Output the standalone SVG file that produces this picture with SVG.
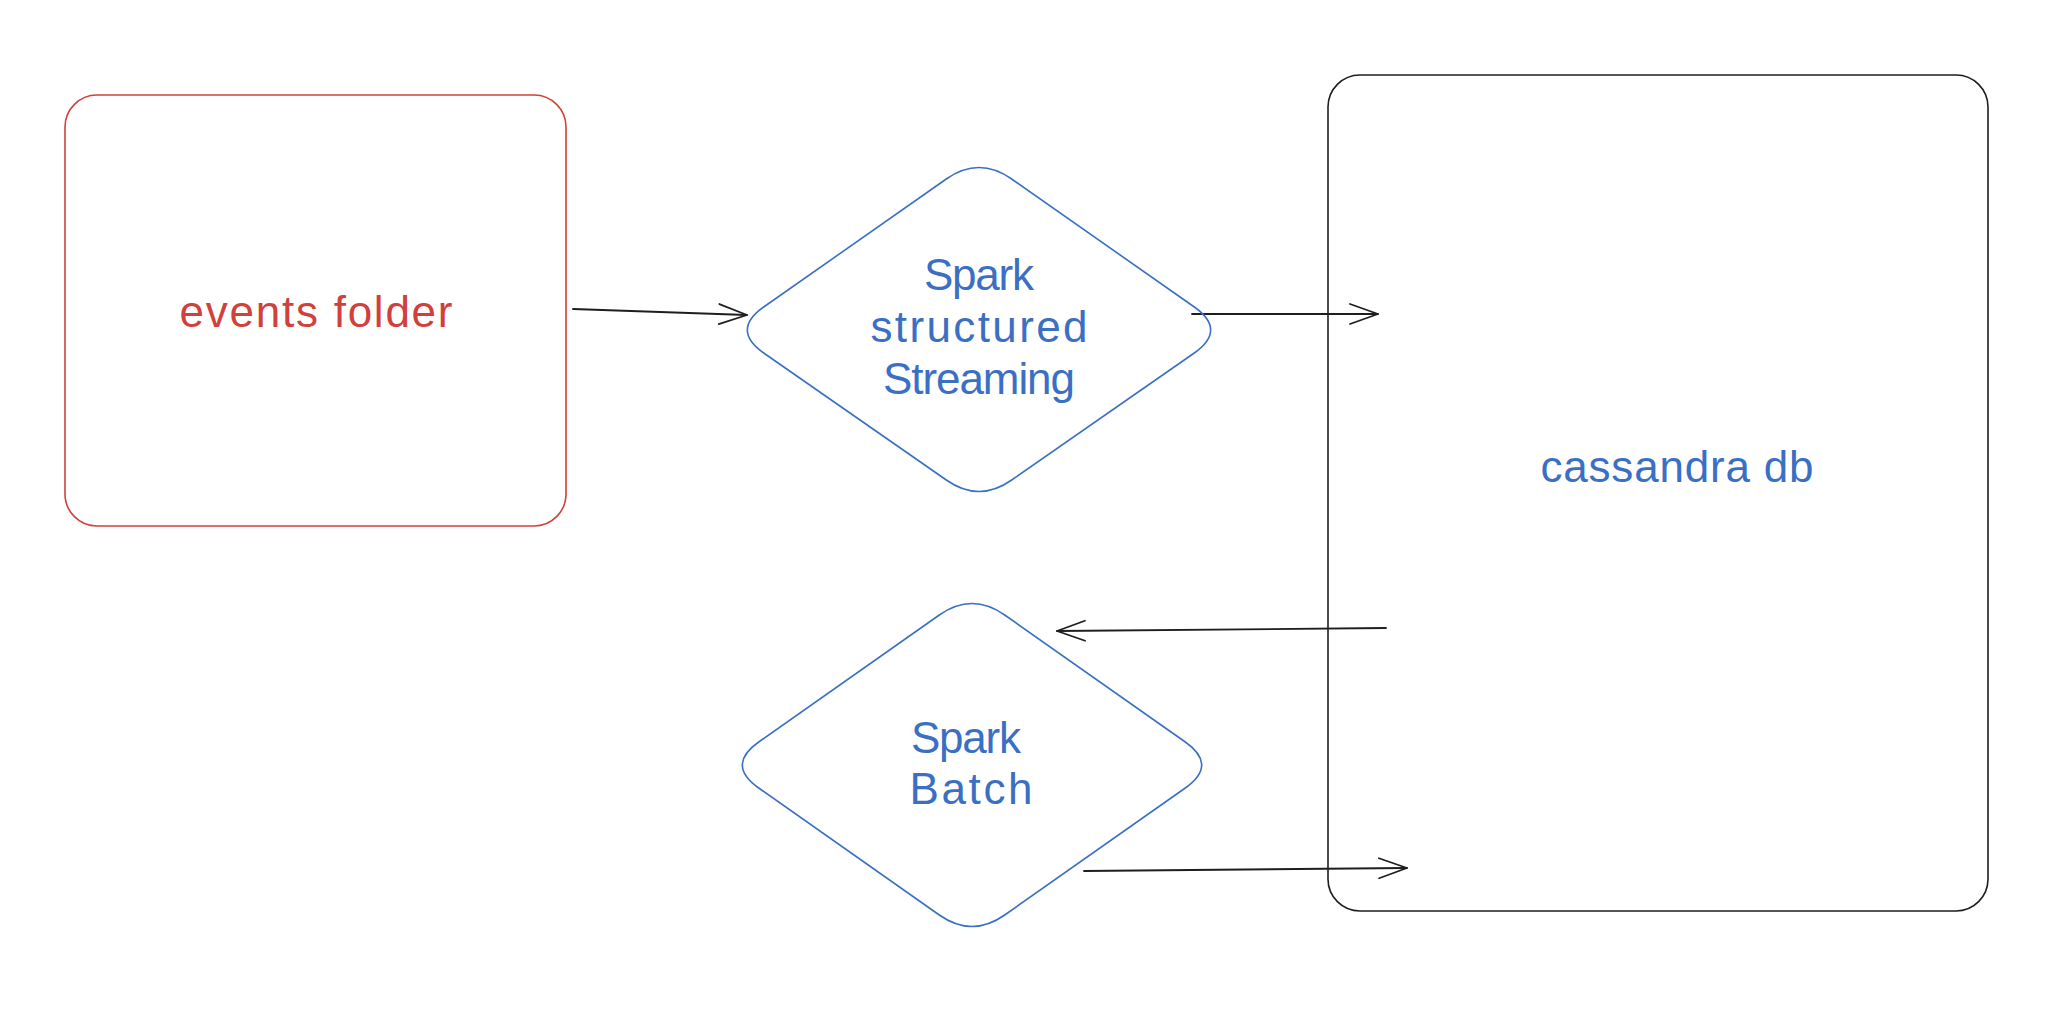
<svg xmlns="http://www.w3.org/2000/svg" width="2070" height="1022" viewBox="0 0 2070 1022">
  <style>
    .bg { fill: #ffffff; }
    .lbl { font-family: "Liberation Sans", "DejaVu Sans", sans-serif; font-size: 44px; text-anchor: middle; }
    .blue { fill: #3a6fc4; }
    .red { fill: #d1403a; }
    .dia { fill: none; stroke: #3a6fc4; stroke-width: 1.6; }
    .box-red { fill: none; stroke: #d1403a; stroke-width: 1.6; }
    .box-black { fill: none; stroke: #1e1e1e; stroke-width: 1.6; }
    .conn { fill: none; stroke: #1e1e1e; stroke-width: 1.8; stroke-linecap: round; }
  </style>
  <defs>
    <marker id="arr" markerUnits="userSpaceOnUse" markerWidth="32" markerHeight="26" viewBox="0 0 32 26" refX="30" refY="13" orient="auto">
      <path d="M2,3 L30,13 L2,23" fill="none" stroke="#1e1e1e" stroke-width="1.8" stroke-linecap="round" stroke-linejoin="round"/>
    </marker>
  </defs>
  <rect class="bg" x="0" y="0" width="2070" height="1022"/>

  <g id="connectors">
    <path class="conn" d="M573,309 L747,315" marker-end="url(#arr)"/>
    <path class="conn" d="M1192,314 L1378,314" marker-end="url(#arr)"/>
    <path class="conn" d="M1386,628 L1057,631" marker-end="url(#arr)"/>
    <path class="conn" d="M1084,871 L1407,868" marker-end="url(#arr)"/>
  </g>

  <g id="events-folder">
    <rect class="box-red" x="65" y="95" width="501" height="431" rx="32" ry="32"/>
    <text class="lbl red" x="316" y="327" textLength="273" lengthAdjust="spacing">events folder</text>
  </g>

  <g id="spark-streaming">
    <path class="dia" d="M1011.7,179 L1194.3,307 Q1227,330 1194.3,353 L1011.7,480 Q979,503 946.3,480 L763.7,353 Q731,330 763.7,307 L946.3,179 Q979,156 1011.7,179 Z"/>
    <text class="lbl blue" x="979" y="290" textLength="110" lengthAdjust="spacing">Spark</text>
    <text class="lbl blue" x="979" y="342" textLength="217" lengthAdjust="spacing">structured</text>
    <text class="lbl blue" x="979" y="394" textLength="192" lengthAdjust="spacing">Streaming</text>
  </g>

  <g id="spark-batch">
    <path class="dia" d="M1004.7,615 L1185.3,742 Q1218,765 1185.3,788 L1004.7,915 Q972,938 939.3,915 L758.7,788 Q726,765 758.7,742 L939.3,615 Q972,592 1004.7,615 Z"/>
    <text class="lbl blue" x="966" y="753" textLength="110" lengthAdjust="spacing">Spark</text>
    <text class="lbl blue" x="971" y="804" textLength="123" lengthAdjust="spacing">Batch</text>
  </g>

  <g id="cassandra-db">
    <rect class="box-black" x="1328" y="75" width="660" height="836" rx="32" ry="32"/>
    <text class="lbl blue" x="1677" y="482" textLength="273" lengthAdjust="spacing">cassandra db</text>
  </g>
</svg>
